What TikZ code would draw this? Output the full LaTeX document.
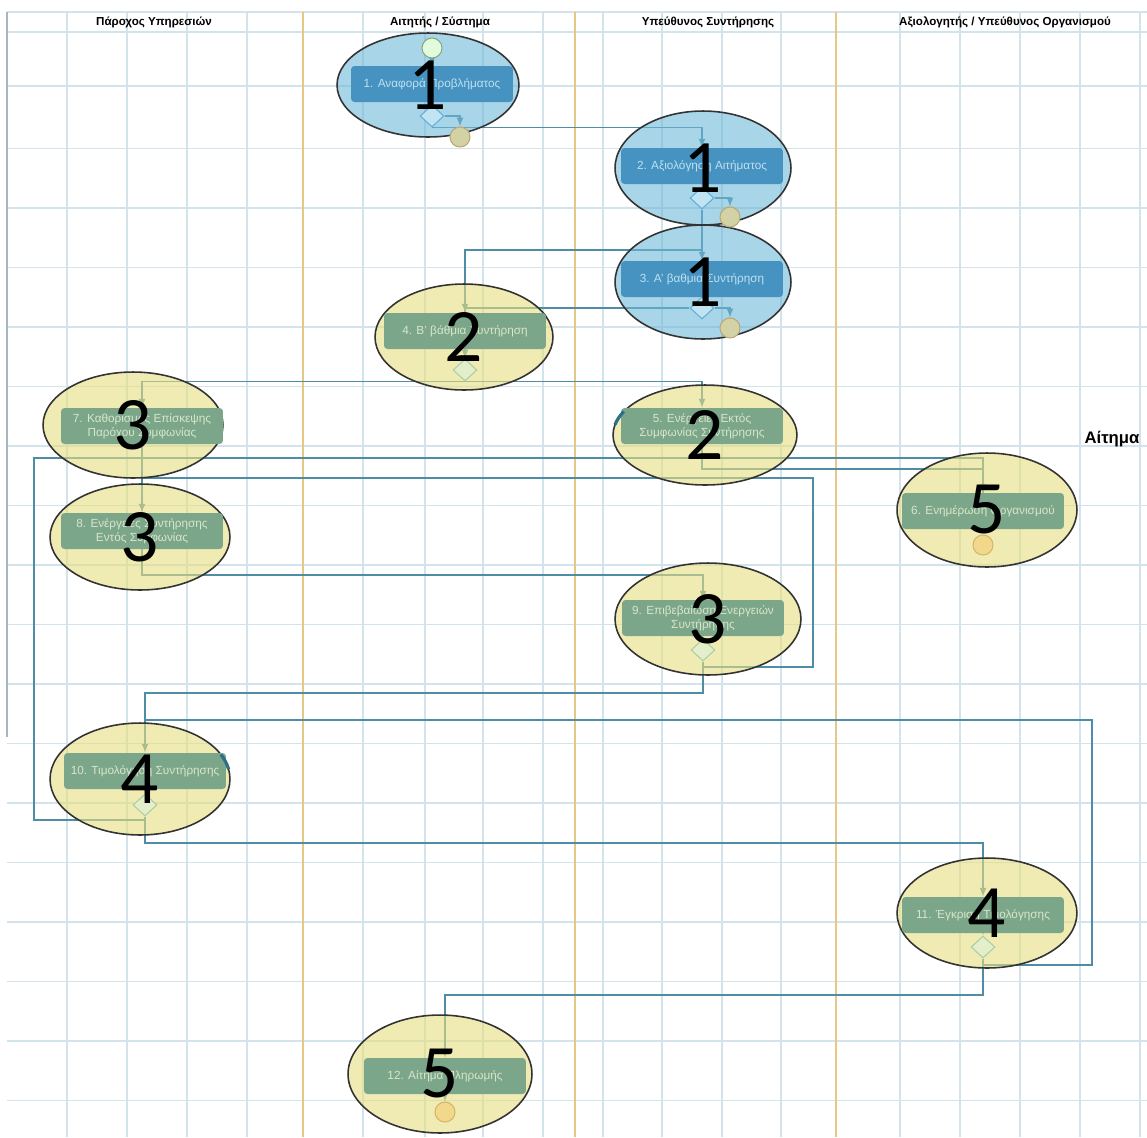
\documentclass[tikz,border=0pt]{standalone}
\usepackage{fontspec}
\setmainfont{Liberation Sans}
\newfontfamily\digitfont{Carlito}
\usepackage{tikz}
\usetikzlibrary{shapes.geometric}

\definecolor{gridc}{HTML}{D3E3EC}
\definecolor{lanec}{HTML}{E6C785}
\definecolor{connc}{HTML}{4F8CA6}
\definecolor{markc}{HTML}{2C6F86}
\definecolor{ovalA}{HTML}{6EB9D9}
\definecolor{ovalB}{HTML}{E6DE7F}
\definecolor{boxA}{HTML}{4693C1}
\definecolor{boxB}{HTML}{7BA68A}
\definecolor{txtA}{HTML}{BFE0F0}
\definecolor{txtB}{HTML}{D9E6C9}
\definecolor{gedgeA}{HTML}{5FAFD8}
\definecolor{gfillA}{HTML}{C2E3F1}
\definecolor{gedgeB}{HTML}{A9CFA4}
\definecolor{gfillB}{HTML}{E4EECB}
\definecolor{eedgeA}{HTML}{B9A878}
\definecolor{efillA}{HTML}{D3D2A5}
\definecolor{eedgeB}{HTML}{D4B66A}
\definecolor{efillB}{HTML}{F1D88B}

\pgfdeclarelayer{grid}
\pgfdeclarelayer{links}
\pgfsetlayers{grid,links,main}

\begin{document}
\begin{tikzpicture}[x=0.02cm, y=-0.02cm,
		conn/.style={draw=connc, line width=0.75pt},
		oval/.style={ellipse, draw=black!80, line width=0.9pt, fill opacity=0.6, text opacity=1, inner sep=0},
		task/.style={rounded corners=2pt, minimum width=3.24cm, minimum height=0.72cm, align=center, inner sep=0, font=\fontsize{6.7}{8}\selectfont},
		gate/.style={diamond, minimum width=0.48cm, minimum height=0.44cm, inner sep=0, line width=0.6pt},
		event/.style={circle, minimum size=0.4cm, inner sep=0, line width=0.6pt},
		num/.style={font=\digitfont\fontsize{43}{43}\selectfont, inner sep=0},
		lanehead/.style={font=\bfseries\fontsize{6.6}{8}\selectfont, inner sep=0}]
	\useasboundingbox (0,0) rectangle (1147,1137);
	
	\begin{pgfonlayer}{grid}
		\foreach \gx in {67,127,187,247,363,425,483,543,603,662,722,781,900,960,1020,1080,1140}
			\draw[gridc, line width=0.6pt] (\gx,12) -- (\gx,1137);
		\foreach \gy in {12,32,86}
			\draw[gridc, line width=0.6pt] (7,\gy) -- (1147,\gy);
		\foreach \k in {0,...,16}
			\draw[gridc, line width=0.6pt] (7,{148.5+59.5*\k}) -- (1147,{148.5+59.5*\k});
		\draw[gridc!80!black, line width=0.6pt] (7,12) -- (7,737);
		\foreach \lx in {303,575,836}
			\draw[lanec, line width=0.9pt] (\lx,12) -- (\lx,1137);
	\end{pgfonlayer}
	
	\node[lanehead] (h1) at (154,22) {Πάροχος Υπηρεσιών};
	\node[lanehead] (h2) at (440,22) {Αιτητής / Σύστημα};
	\node[lanehead] (h3) at (708,22) {Υπεύθυνος Συντήρησης};
	\node[lanehead] (h4) at (1005,22) {Αξιολογητής / Υπεύθυνος Οργανισμού};
	\node[font=\bfseries\fontsize{9.5}{11}\selectfont, inner sep=0] (req) at (1112,439) {Αίτημα};
	
	\foreach \i/\ex/\ey/\rx/\ry/\k/\bx/\by/\txt in {
			1/428/85/91/52/A/432/84/{1. Αναφορά Προβλήματος},
			2/703/168/88/57/A/702/166/{2. Αξιολόγηση Αιτήματος},
			3/703/282/88/57/A/702/279/{3. Α' βαθμια Συντήρηση},
			4/464/337/89/53/B/465/331/{4. Β' βάθμια Συντήρηση},
			5/705/435/92/50/B/702/426/{5. Ενέργειες Εκτός\\Συμφωνίας Συντήρησης},
			6/987/510/90/57/B/983/511/{6. Ενημέρωση Οργανισμού},
			7/133/425/90/53/B/142/426/{7. Καθορισμός Επίσκεψης\\Παρόχου Συμφωνίας},
			8/140/537/90/53/B/142/531/{8. Ενέργειες Συντήρησης\\Εντός Συμφωνίας},
			9/708/619/93/56/B/703/618/{9. Επιβεβαίωση Ενεργειών\\Συντήρησης},
			10/140/779/90/56/B/145/771/{10. Τιμολόγηση Συντήρησης},
			11/987/913/90/55/B/983/915/{11. Έγκριση Τιμολόγησης},
			12/440/1074/92/59/B/445/1076/{12. Αίτημα Πληρωμής}} {
		\node[oval, fill=oval\k, minimum width=\rx*0.04cm, minimum height=\ry*0.04cm] (o\i) at (\ex,\ey) {};
		\node[task, fill=box\k, text=txt\k] (t\i) at (\bx,\by) {\txt};
	}
	
	\node[event, draw=gedgeB!80!black, fill=gfillB!70!green!30] (s1) at (432,48) {};
	\foreach \i/\gx/\gy/\k in {1/432/116/A, 2/702/198/A, 3/702/308/A, 4/465/370/B, 9/703/650/B, 10/145/805/B, 11/983/947/B}
		\node[gate, draw=gedge\k, fill=gfill\k] (g\i) at (\gx,\gy) {};
	\foreach \i/\ex/\ey/\k in {1/460/137/A, 2/730/217/A, 3/730/328/A, 6/983/545/B, 12/445/1112/B}
		\node[event, draw=eedge\k, fill=efill\k] (x\i) at (\ex,\ey) {};
	
	\foreach \i/\d in {1/1, 2/1, 3/1, 4/2, 5/2, 6/5, 7/3, 8/3, 9/3, 10/4, 11/4, 12/5}
		\node[num] (n\i) at (o\i) {\d};
	
	\draw[markc, line width=1.8pt] (o5.center) ++(152:1.84cm and 1cm) arc[start angle=152, end angle=168, x radius=1.84cm, y radius=1cm];
	\draw[markc, line width=1.8pt] (o10.center) ++(10:1.8cm and 1.12cm) arc[start angle=10, end angle=26, x radius=1.8cm, y radius=1.12cm];
	
	\coordinate (row24) at (0,250);
	\coordinate (row56) at (0,469);
	\coordinate (row106) at (0,820);
	\coordinate (row106t) at (0,458);
	\coordinate (col106) at (34,0);
	\coordinate (row89) at (0,575);
	\coordinate (row98) at (0,667);
	\coordinate (row98t) at (0,478);
	\coordinate (col98) at (813,0);
	\coordinate (row910) at (0,693);
	\coordinate (row1011) at (0,843);
	\coordinate (row1110) at (0,965);
	\coordinate (row1110t) at (0,720);
	\coordinate (col1110) at (1092,0);
	\coordinate (row1112) at (0,995);
	
	\begin{pgfonlayer}{links}
		\begin{scope}[-latex]
			\draw[conn] (s1) -- (t1);
			\foreach \i in {1,2,3,4,9,10,11}
				\draw[conn] (t\i) -- (g\i);
			\foreach \i in {1,2,3}
				\draw[conn] (g\i.east) -| (x\i.north);
			\draw[conn] (t6) -- (x6);
			\draw[conn] (t12) -- (x12);
			
			\draw[conn] (g1.south) -| (t2.north);
			\draw[conn] (g2) -- (t3);
			\draw[conn] (g2.south |- row24) -| (t4.north);
			\draw[conn] (g4.south) -| (t5.north);
			\draw[conn] (g4.south) -| (t7.north);
			\draw[conn] (t7) -- (t8);
			\draw[conn] (t5.south) -- (t5.south |- row56) -| (t6.north);
			\draw[conn] (t8.south) -- (t8.south |- row89) -| (t9.north);
			\draw[conn] (g9.south) -- (g9.south |- row910) -| (t10.north);
			\draw[conn] (g10.south) -- (g10.south |- row1011) -| (t11.north);
			\draw[conn] (g11.south) -- (g11.south |- row1112) -| (t12.north);
		\end{scope}
		
		\draw[conn] (g3.west) -| (t4.north);
		\draw[conn] (g9.south |- row98) -- (col98 |- row98) -- (col98 |- row98t) -- (t8.north |- row98t);
		\draw[conn] (g10.south |- row106) -- (col106 |- row106) -- (col106 |- row106t) -| (t6.north);
		\draw[conn] (g11.south |- row1110) -- (col1110 |- row1110) -- (col1110 |- row1110t) -- (t10.north |- row1110t);
	\end{pgfonlayer}
\end{tikzpicture}
\end{document}
